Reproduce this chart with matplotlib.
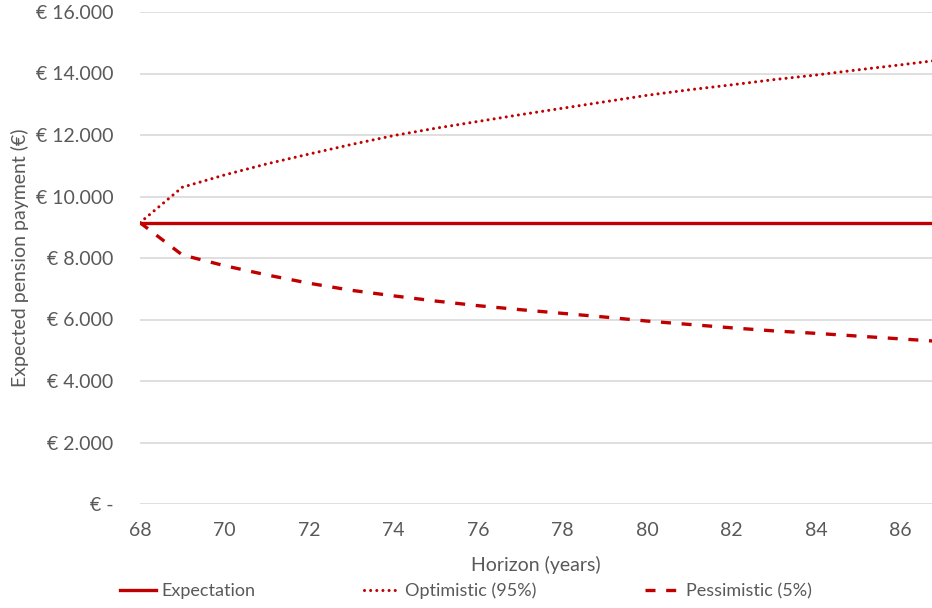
import matplotlib.pyplot as plt
from matplotlib.ticker import FuncFormatter

plt.rcParams['font.family'] = ['Lato', 'DejaVu Sans']

# Pension payment by horizon (age in years), in euro
ages = [68, 69, 70, 71, 72, 73, 74, 75, 76, 77, 78, 79, 80, 81, 82, 83, 84, 85, 86, 87]
expectation = [9150] * len(ages)
optimistic = [9150, 10300, 10700, 11060, 11380, 11690, 11980, 12220, 12440, 12660,
              12870, 13080, 13290, 13470, 13630, 13800, 13950, 14120, 14280, 14450]
pessimistic = [9150, 8100, 7750, 7450, 7180, 6950, 6770, 6600, 6450, 6320,
               6200, 6080, 5950, 5840, 5730, 5630, 5550, 5460, 5370, 5280]

red = '#c00000'
grey = '#595959'

fig = plt.figure(figsize=(9.32, 6.08), dpi=100)
ax = fig.add_axes([140 / 932, 104 / 608, 792 / 932, 492 / 608])

ax.plot(ages, expectation, color=red, lw=2.4, label='Expectation')
ax.plot(ages, optimistic, color=red, lw=2.2, linestyle=(0, (0.01, 2.0)),
        dash_capstyle='round', label='Optimistic (95%)')
ax.plot(ages, pessimistic, color=red, lw=2.4, linestyle=(0, (3.0, 3.2)),
        label='Pessimistic (5%)')

ax.set_xlim(68, 86.75)
ax.set_ylim(0, 16000)
ax.set_xticks(range(68, 87, 2))
ax.set_yticks(range(0, 16001, 2000))


def euro(v, pos):
    if v == 0:
        return '€ -'
    return '€ ' + f'{int(v):,}'.replace(',', '.')


ax.yaxis.set_major_formatter(FuncFormatter(euro))
ax.grid(axis='y', color='#d9d9d9', lw=1.2)
ax.set_axisbelow(True)
for s in ax.spines.values():
    s.set_visible(False)
ax.tick_params(length=0, labelsize=14, colors=grey)
ax.tick_params(axis='x', pad=13)
ax.tick_params(axis='y', pad=19)

ax.set_xlabel('Horizon (years)', fontsize=14, color=grey, labelpad=12)
ax.set_ylabel('Expected pension payment (€)', fontsize=14, color=grey)
ax.yaxis.set_label_coords(-0.140, 0.5)

fig.legend(loc='center', bbox_to_anchor=(0.50, 0.028), ncol=3, frameon=False,
           fontsize=13, labelcolor=grey, handlelength=2.0, handletextpad=0.3,
           columnspacing=6.0)

fig.savefig('out.png', dpi=100)
